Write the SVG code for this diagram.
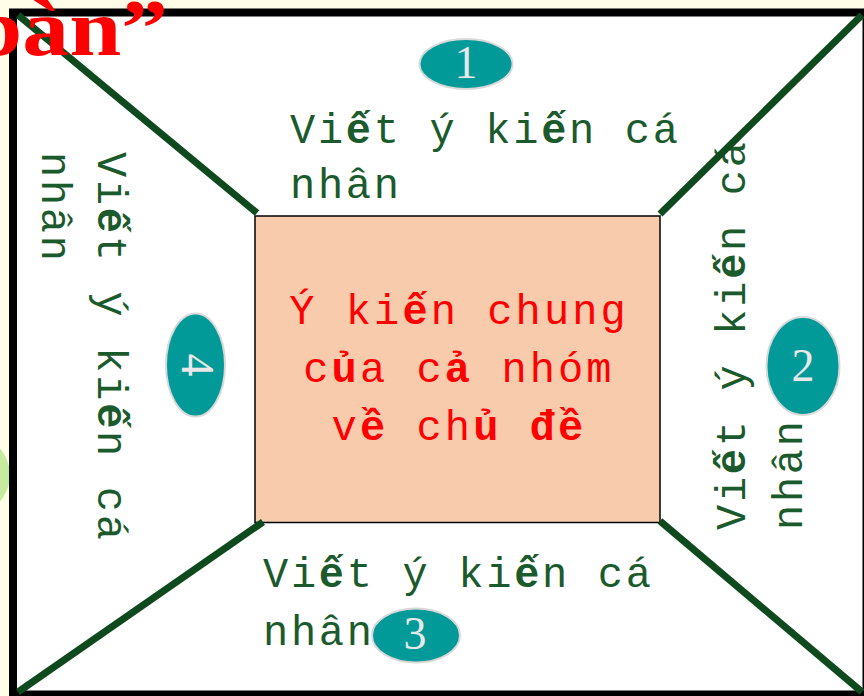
<svg xmlns="http://www.w3.org/2000/svg" width="864" height="696" viewBox="0 0 864 696">
  <defs>
    <style>
      .bg { fill: #FFFDE8; }
      .frame { fill: #FFFFFF; stroke: #000000; stroke-width: 8; }
      .center { fill: #F8CBAD; stroke: #000000; stroke-width: 1.5; }
      .txt { font-family: "Liberation Mono", "DejaVu Sans Mono", monospace; font-size: 42px; letter-spacing: 2.7px; fill: #1B5A2C; }
      .ctxt { font-family: "Liberation Mono", "DejaVu Sans Mono", monospace; font-size: 42px; letter-spacing: 3.1px; fill: #FF0000; text-anchor: middle; }
      .b { font-weight: bold; }
      .badge { fill: #029A98; stroke: #D9D9D9; stroke-width: 2; }
      .num { font-family: "Liberation Serif", "DejaVu Serif", serif; font-size: 46px; fill: #E8E8E8; text-anchor: middle; }
      .diag { stroke: #0E4A1E; stroke-width: 7; fill: none; stroke-linecap: butt; }
      .title { font-family: "Liberation Serif", "DejaVu Serif", serif; font-size: 80px; font-weight: bold; fill: #FF0000; text-anchor: end; }
    </style>
  </defs>

  <rect class="bg" x="0" y="0" width="864" height="696"/>
  <circle cx="-30" cy="475" r="40" fill="#C6EA9E"/>
  <rect class="frame" x="13" y="12.5" width="853.5" height="682"/>

  <g id="section1">
    <text class="txt" x="290" y="143">Vi<tspan class="b">ế</tspan>t ý ki<tspan class="b">ế</tspan>n cá</text>
    <text class="txt" x="290" y="198">nhân</text>
    <ellipse class="badge" cx="466" cy="64" rx="46.5" ry="25"/>
    <text class="num" x="466" y="78">1</text>
  </g>

  <g id="section2">
    <g transform="translate(745,530) rotate(-90)">
      <text class="txt" x="0" y="0">Vi<tspan class="b">ế</tspan>t ý ki<tspan class="b">ế</tspan>n cá</text>
      <text class="txt" x="0" y="57">nhân</text>
    </g>
    <ellipse class="badge" cx="803" cy="366" rx="36.5" ry="49"/>
    <text class="num" x="803" y="381">2</text>
  </g>

  <g id="section3">
    <text class="txt" x="263" y="587">Vi<tspan class="b">ế</tspan>t ý ki<tspan class="b">ế</tspan>n cá</text>
    <text class="txt" x="263" y="645">nhân</text>
    <ellipse class="badge" cx="416" cy="635.5" rx="44" ry="27"/>
    <text class="num" x="415" y="649">3</text>
  </g>

  <g id="section4">
    <g transform="translate(98,152) rotate(90)">
      <text class="txt" x="0" y="0">Vi<tspan class="b">ế</tspan>t ý ki<tspan class="b">ế</tspan>n cá</text>
      <text class="txt" x="0" y="56">nhân</text>
    </g>
    <ellipse class="badge" cx="195.5" cy="365" rx="29.5" ry="51.5"/>
    <g transform="translate(182,365) rotate(90)">
      <text class="num" x="0" y="0">4</text>
    </g>
  </g>

  <g id="center">
    <rect class="center" x="255" y="216" width="405" height="306.5"/>
    <text class="ctxt" x="459" y="324">Ý ki<tspan class="b">ế</tspan>n chung</text>
    <text class="ctxt" x="459" y="382">c<tspan class="b">ủ</tspan>a c<tspan class="b">ả</tspan> nhóm</text>
    <text class="ctxt" x="459" y="440">v<tspan class="b">ề</tspan> ch<tspan class="b">ủ</tspan> <tspan class="b">đề</tspan></text>
  </g>

  <g id="connectors">
    <line class="diag" x1="18" y1="15" x2="257" y2="213"/>
    <line class="diag" x1="862" y1="15" x2="660" y2="214"/>
    <line class="diag" x1="18" y1="692" x2="263" y2="522"/>
    <line class="diag" x1="660" y1="521" x2="862" y2="692"/>
  </g>

  <g id="title">
    <text class="title" transform="translate(168,55) scale(1.17,1)" x="0" y="0">bàn”</text>
  </g>
</svg>
